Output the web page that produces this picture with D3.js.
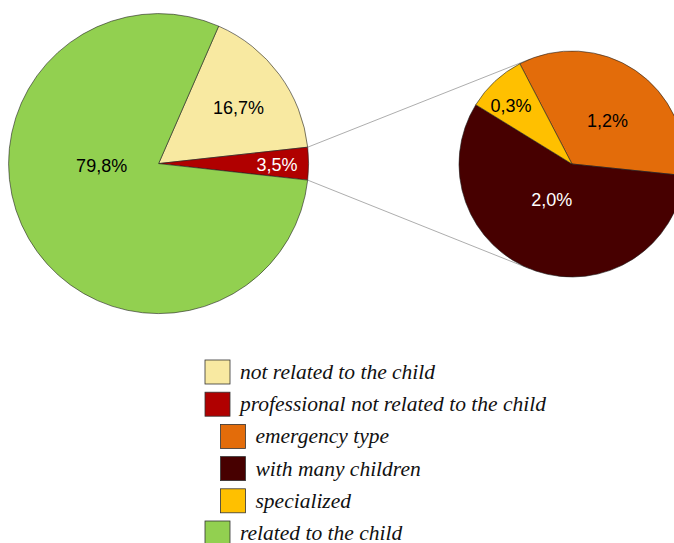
<!DOCTYPE html>
<html>
<head>
<meta charset="utf-8">
<script src="https://cdn.jsdelivr.net/npm/d3@7"></script>
<style>
  html, body { margin: 0; padding: 0; background: #fff; }
  svg { display: block; }
</style>
</head>
<body>
<svg id="chart" width="674" height="543"></svg>
<script>
// ---- data ----
const mainCategories = ["not related to the child", "professional not related to the child", "related to the child"];
const mainValues = [16.7, 3.5, 79.8];
const mainLabels = ["16,7%", "3,5%", "79,8%"];
const mainColors = ["#F8E9A1", "#B00000", "#92D050"];
const mainLabelColors = ["#000", "#fff", "#000"];

const subCategories = ["emergency type", "with many children", "specialized"];
const subValues = [1.2, 2.0, 0.3];
const subLabels = ["1,2%", "2,0%", "0,3%"];
const subColors = ["#E36C0A", "#470000", "#FFC000"];
const subLabelColors = ["#000", "#fff", "#000"];

const legendItems = [
  { name: "not related to the child", color: "#F8E9A1", indent: 0 },
  { name: "professional not related to the child", color: "#B00000", indent: 0 },
  { name: "emergency type", color: "#E36C0A", indent: 1 },
  { name: "with many children", color: "#470000", indent: 1 },
  { name: "specialized", color: "#FFC000", indent: 1 },
  { name: "related to the child", color: "#92D050", indent: 0 }
];

// ---- layout config ----
const deg = Math.PI / 180;
const main = { cx: 158.6, cy: 163.6, r: 150, start: 23.6 * deg };
const sub = { cx: 572, cy: 164, r: 113, start: -27.5 * deg };
// label placement (angle deg clockwise from top, fraction of radius)
const mainLabelPolar = [[55, 0.65], [90.4, 0.79], [268, 0.38]];
const subLabelPolar = [[39, 0.5], [209.7, 0.36], [314, 0.75]];

const svg = d3.select("#chart");

function drawPie(cfg, values, colors, labels, labelColors, polar) {
  const pie = d3.pie().sort(null).value(d => d)
    .startAngle(cfg.start).endAngle(cfg.start + 2 * Math.PI);
  const arcs = pie(values);
  const arc = d3.arc().innerRadius(0).outerRadius(cfg.r);
  const g = svg.append("g").attr("transform", `translate(${cfg.cx},${cfg.cy})`);
  g.selectAll("path").data(arcs).join("path")
    .attr("d", arc)
    .attr("fill", (d, i) => colors[i])
    .attr("stroke", "#222")
    .attr("stroke-width", 0.6)
    .attr("stroke-linejoin", "round");
  g.selectAll("text").data(arcs).join("text")
    .attr("x", (d, i) => Math.sin(polar[i][0] * deg) * polar[i][1] * cfg.r)
    .attr("y", (d, i) => -Math.cos(polar[i][0] * deg) * polar[i][1] * cfg.r)
    .attr("dy", "0.36em")
    .attr("text-anchor", "middle")
    .attr("font-family", "'Liberation Sans', Arial, sans-serif")
    .attr("font-size", 18)
    .attr("fill", (d, i) => labelColors[i])
    .text((d, i) => labels[i]);
  return arcs;
}

const mainArcs = drawPie(main, mainValues, mainColors, mainLabels, mainLabelColors, mainLabelPolar);

// connector lines: from the edges of the exploded slice, tangent to the sub pie
const red = mainArcs[1];
function pt(cfg, a) { return [cfg.cx + Math.sin(a) * cfg.r, cfg.cy - Math.cos(a) * cfg.r]; }
const p1 = pt(main, red.startAngle);
const p2 = pt(main, red.endAngle);
function tangent(p, upper) {
  const dx = p[0] - sub.cx, dy = p[1] - sub.cy;
  const d = Math.hypot(dx, dy);
  const base = Math.atan2(dy, dx);
  const off = Math.acos(sub.r / d);
  const a = upper ? base + off : base - off;
  return [sub.cx + Math.cos(a) * sub.r, sub.cy + Math.sin(a) * sub.r];
}
const t1 = tangent(p1, true);
const t2 = tangent(p2, false);
svg.append("line").attr("x1", p1[0]).attr("y1", p1[1]).attr("x2", t1[0]).attr("y2", t1[1])
  .attr("stroke", "#8a8a8a").attr("stroke-width", 0.7);
svg.append("line").attr("x1", p2[0]).attr("y1", p2[1]).attr("x2", t2[0]).attr("y2", t2[1])
  .attr("stroke", "#8a8a8a").attr("stroke-width", 0.7);

drawPie(sub, subValues, subColors, subLabels, subLabelColors, subLabelPolar);

// legend
const leg = svg.append("g");
const rowY = d3.scaleLinear().domain([0, 5]).range([360, 521]);
const rows = leg.selectAll("g").data(legendItems).join("g")
  .attr("transform", (d, i) => `translate(${205 + d.indent * 15.5},${rowY(i)})`);
rows.append("rect")
  .attr("width", 25).attr("height", 24)
  .attr("fill", d => d.color)
  .attr("stroke", "#333").attr("stroke-width", 0.8);
rows.append("text")
  .attr("x", 35).attr("y", 19)
  .attr("font-family", "'Liberation Serif', 'Times New Roman', serif")
  .attr("font-style", "italic")
  .attr("font-size", 21.5)
  .attr("fill", "#111")
  .text(d => d.name);
</script>
</body>
</html>
